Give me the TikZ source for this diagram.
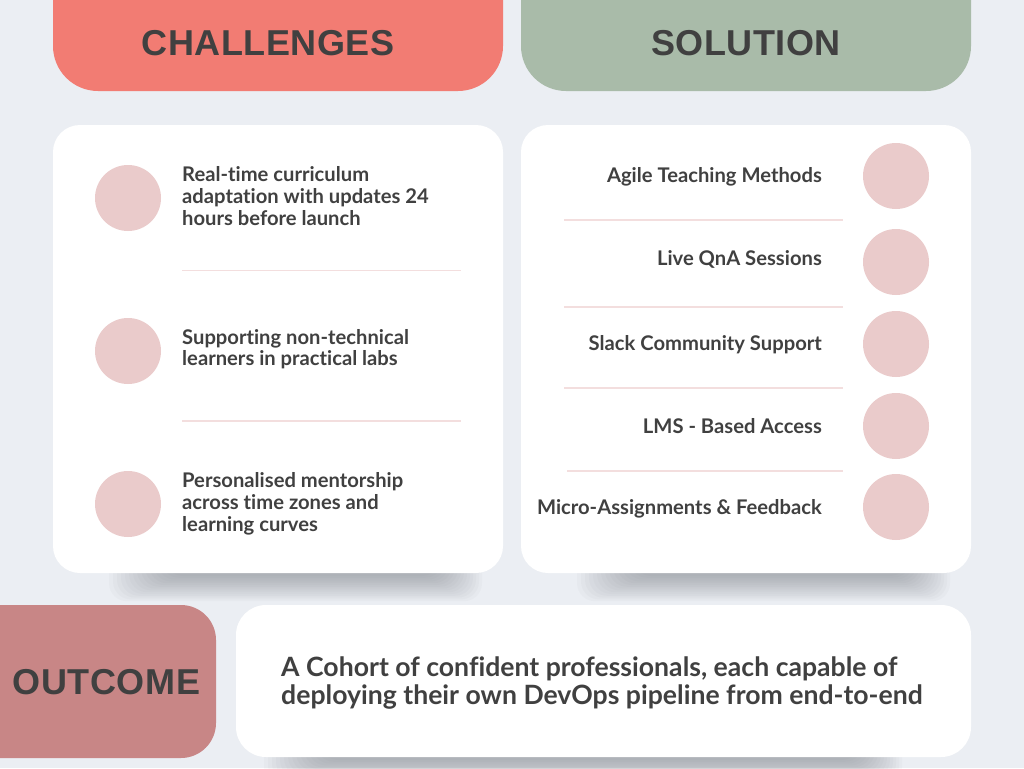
\documentclass[tikz,border=0pt]{standalone}
\usepackage{fontspec}
\setmainfont[Ligatures=NoCommon]{Lato}
\newfontfamily\headfont[LetterSpace=1.5]{Liberation Sans}
\definecolor{bgc}{HTML}{EBEEF3}
\definecolor{chalc}{HTML}{F27C73}
\definecolor{solc}{HTML}{A9BBA9}
\definecolor{outc}{HTML}{C88686}
\definecolor{circc}{HTML}{EACBCB}
\definecolor{sepc}{HTML}{F3DEDE}
\definecolor{txtc}{HTML}{404040}
\definecolor{shc}{HTML}{5A5F66}
\tikzset{
  header/.style={font=\headfont\bfseries\fontsize{36}{40}\selectfont, text=txtc, inner sep=0pt, anchor=base},
  panel/.style={fill=white, rounded corners=27pt},
  dot/.style={circle, fill=circc, minimum size=66pt, inner sep=0pt},
  sepline/.style={draw=sepc, line width=1.3pt},
  lefttxt/.style={font=\bfseries\fontsize{20.2}{21.7}\selectfont, text=txtc, align=left, inner sep=0pt, anchor=base west},
  righttxt/.style={font=\bfseries\fontsize{20.2}{21.7}\selectfont, text=txtc, inner sep=0pt, anchor=base east},
  outtxt/.style={font=\bfseries\fontsize{26.6}{28}\selectfont, text=txtc, align=left, inner sep=0pt, anchor=base west},
  shlayer/.style={fill=shc, opacity=0.03, rounded corners=18pt}
}
\begin{document}
\begin{tikzpicture}[x=1pt, y=-1pt]
\useasboundingbox (0,0) rectangle (1024,768);
\clip (0,0) rectangle (1024,768);
\fill[bgc] (0,0) rectangle (1024,768);

% headers
\fill[chalc, rounded corners=45pt] (53,-60) rectangle (503,91);
\fill[solc, rounded corners=45pt] (521,-60) rectangle (971,91);
\node[header] (hchal) at (268,56) {CHALLENGES};
\node[header] (hsol) at (746,56) {SOLUTION};

% shadows
\foreach \k in {0,...,14}{
  \fill[shlayer] (165-4*\k,530) rectangle (440+3*\k,576+1.8*\k);
  \fill[shlayer] (633-4*\k,530) rectangle (908+3*\k,576+1.8*\k);
  \fill[shlayer] (320-4*\k,720) rectangle (860+3*\k,760+1.8*\k);
}

% panels
\fill[panel] (53,125) rectangle (503,573);
\fill[panel] (521,125) rectangle (971,573);

% challenges
\node[dot] (c1) at (128,198) {};
\node[dot] (c2) at (128,351) {};
\node[dot] (c3) at (128,504) {};
\node[lefttxt] (t1) at (182,225) {Real-time curriculum\\adaptation with updates 24\\hours before launch};
\node[lefttxt] (t2) at (182,365.7) {Supporting non-technical\\learners in practical labs};
\node[lefttxt] (t3) at (182,531) {Personalised mentorship\\across time zones and\\learning curves};
\draw[sepline] (182,270.7) -- (461,270.7);
\draw[sepline] (182,421) -- (461,421);

% solution
\node[dot] (s1) at (896,176) {};
\node[dot] (s2) at (896,262) {};
\node[dot] (s3) at (896,344) {};
\node[dot] (s4) at (896,426) {};
\node[dot] (s5) at (896,507) {};
\node[righttxt] (r1) at (822,182.7) {Agile Teaching Methods};
\node[righttxt] (r2) at (822,265.7) {Live QnA Sessions};
\node[righttxt] (r3) at (822,350.7) {Slack Community Support};
\node[righttxt] (r4) at (822,433.3) {LMS - Based Access};
\node[righttxt] (r5) at (822,514.3) {Micro-Assignments \& Feedback};
\draw[sepline] (564,220) -- (843,220);
\draw[sepline] (564,307) -- (843,307);
\draw[sepline] (564,388) -- (843,388);
\draw[sepline] (567,471) -- (843,471);

% outcome
\fill[outc, rounded corners=35pt] (-60,605) rectangle (216,758);
\node[header] (hout) at (106.5,694) {OUTCOME};
\fill[panel, rounded corners=30pt] (236,605) rectangle (971,757);
\node[outtxt] (otxt) at (281,704) {A Cohort of confident professionals, each capable of\\deploying their own DevOps pipeline from end-to-end};
\end{tikzpicture}
\end{document}
